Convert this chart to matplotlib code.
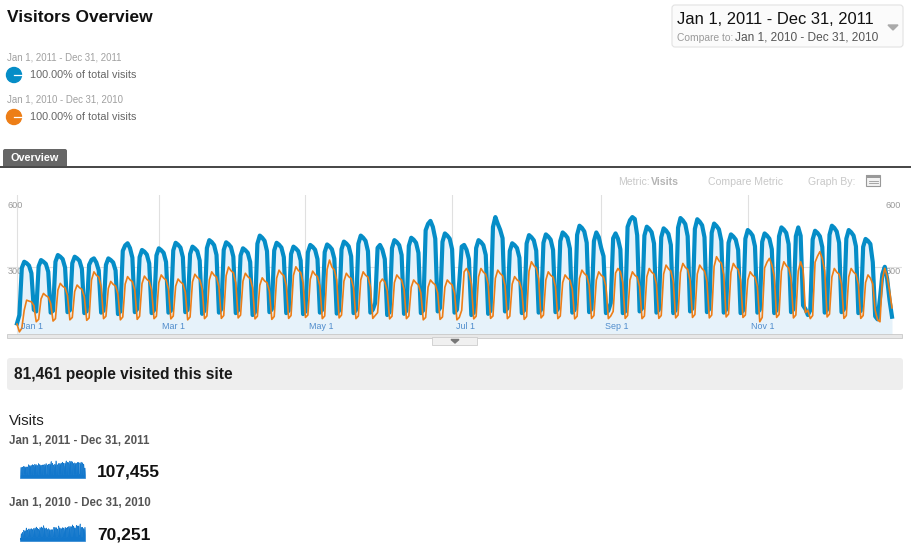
import matplotlib.pyplot as plt
from matplotlib.patches import Rectangle, FancyBboxPatch, Circle, Polygon

plt.rcParams['font.family'] = ['Liberation Sans', 'DejaVu Sans']

W, H = 912, 551

# 月份刻度（一年中的第几天, 0 = Jan 1）
month_days = [0, 59, 120, 181, 243, 304]
month_labels = ['Jan 1', 'Mar 1', 'May 1', 'Jul 1', 'Sep 1', 'Nov 1']
y_ticks = [300, 600]

# 2011 daily visits (Sat Jan 1, Sun Jan 2, then Mon..Sun weeks)
visits_2011_weeks = [
    [65, 100],
    [296, 322, 316, 306, 274, 122, 115],
    [303, 329, 322, 313, 280, 110, 118],
    [322, 350, 343, 333, 298, 112, 120],
    [316, 343, 336, 326, 292, 108, 116],
    [309, 330, 336, 319, 286, 110, 118],
    [309, 336, 329, 319, 286, 104, 115],
    [367, 390, 399, 379, 339, 112, 125],
    [341, 371, 364, 352, 315, 108, 120],
    [348, 378, 370, 359, 321, 110, 118],
    [369, 401, 393, 381, 341, 112, 122],
    [354, 385, 377, 366, 327, 105, 118],
    [379, 412, 404, 391, 350, 110, 125],
    [371, 403, 395, 383, 343, 108, 120],
    [348, 378, 370, 359, 321, 100, 112],
    [397, 431, 422, 409, 366, 112, 124],
    [369, 401, 393, 381, 341, 108, 118],
    [354, 385, 377, 366, 327, 104, 115],
    [361, 392, 384, 372, 333, 110, 122],
    [362, 394, 386, 374, 335, 106, 118],
    [374, 406, 398, 386, 345, 108, 120],
    [397, 431, 422, 409, 366, 110, 122],
    [150, 380, 392, 372, 333, 100, 112],
    [379, 412, 404, 391, 350, 105, 118],
    [388, 422, 414, 401, 359, 108, 120],
    [453, 480, 492, 467, 418, 115, 130],
    [405, 440, 431, 418, 374, 110, 122],
    [240, 385, 392, 372, 333, 100, 110],
    [379, 412, 404, 391, 350, 105, 118],
    [467, 508, 480, 455, 420, 115, 128],
    [367, 399, 391, 379, 339, 108, 120],
    [398, 433, 424, 411, 368, 110, 122],
    [401, 436, 427, 414, 371, 112, 125],
    [408, 444, 435, 422, 377, 110, 122],
    [434, 472, 463, 448, 401, 112, 125],
    [408, 444, 425, 380, 345, 108, 118],
    [150, 420, 440, 418, 374, 108, 115],
    [467, 495, 508, 500, 432, 115, 128],
    [431, 468, 459, 445, 398, 110, 122],
    [424, 461, 452, 438, 392, 108, 120],
    [464, 504, 494, 479, 428, 115, 128],
    [459, 499, 489, 474, 424, 112, 125],
    [443, 481, 471, 457, 409, 110, 122],
    [401, 436, 427, 414, 371, 108, 118],
    [418, 454, 445, 431, 386, 110, 122],
    [405, 440, 431, 418, 374, 108, 120],
    [428, 465, 456, 442, 395, 112, 124],
    [428, 465, 430, 140, 125, 100, 120],
    [415, 451, 442, 428, 383, 110, 122],
    [434, 472, 463, 448, 401, 112, 124],
    [418, 454, 445, 431, 386, 108, 118],
    [384, 417, 409, 396, 320, 95, 82],
    [170, 270, 301, 250, 160, 93],
]

# 2010 daily visits (Fri Jan 1, Sat, Sun, then Mon..Sun weeks)
visits_2010_weeks = [
    [62, 30, 45],
    [120, 162, 158, 155, 140, 72, 82],
    [167, 190, 181, 175, 148, 75, 85],
    [204, 232, 220, 213, 181, 80, 90],
    [198, 225, 214, 207, 176, 78, 88],
    [246, 280, 266, 258, 218, 85, 95],
    [211, 240, 228, 221, 187, 80, 92],
    [229, 260, 247, 239, 203, 82, 95],
    [231, 262, 249, 241, 204, 85, 95],
    [235, 267, 254, 246, 208, 84, 96],
    [220, 250, 238, 230, 195, 80, 92],
    [238, 270, 257, 248, 211, 85, 96],
    [246, 280, 266, 258, 218, 86, 98],
    [264, 300, 285, 276, 234, 88, 100],
    [241, 274, 260, 252, 214, 84, 95],
    [224, 255, 242, 235, 199, 82, 94],
    [253, 287, 273, 264, 224, 86, 98],
    [265, 301, 286, 277, 235, 90, 100],
    [249, 283, 269, 260, 221, 85, 96],
    [290, 329, 300, 288, 245, 88, 100],
    [241, 274, 260, 252, 214, 85, 96],
    [246, 280, 266, 258, 218, 86, 98],
    [110, 235, 250, 238, 200, 84, 95],
    [235, 267, 254, 246, 208, 85, 96],
    [216, 246, 234, 226, 192, 80, 90],
    [216, 246, 234, 226, 192, 82, 92],
    [216, 246, 234, 226, 192, 80, 90],
    [120, 280, 294, 275, 230, 84, 95],
    [259, 294, 279, 270, 229, 86, 96],
    [253, 287, 273, 264, 224, 85, 95],
    [229, 260, 247, 239, 203, 82, 94],
    [283, 322, 306, 296, 251, 88, 100],
    [246, 280, 266, 258, 218, 85, 96],
    [235, 267, 254, 246, 208, 84, 95],
    [253, 287, 273, 264, 224, 86, 98],
    [246, 280, 266, 258, 218, 85, 96],
    [115, 275, 294, 280, 235, 86, 98],
    [246, 280, 266, 258, 218, 85, 96],
    [259, 294, 279, 270, 229, 86, 98],
    [271, 308, 293, 283, 240, 88, 100],
    [277, 315, 299, 290, 246, 90, 102],
    [271, 308, 293, 283, 240, 88, 100],
    [302, 343, 326, 316, 268, 92, 104],
    [277, 315, 299, 290, 246, 90, 100],
    [246, 280, 266, 258, 218, 72, 90],
    [296, 320, 336, 309, 262, 90, 102],
    [283, 322, 306, 296, 251, 88, 100],
    [283, 322, 290, 110, 120, 85, 98],
    [320, 345, 364, 335, 284, 92, 104],
    [259, 294, 279, 270, 229, 86, 98],
    [259, 294, 279, 270, 229, 86, 98],
    [235, 267, 254, 230, 120, 80, 72],
    [250, 295, 260, 200, 130],
]

visits_2011 = sum(visits_2011_weeks, [])
visits_2010 = sum(visits_2010_weeks, [])
days = list(range(len(visits_2011)))

BLUE = '#058dc7'
ORANGE = '#ed7e17'

fig = plt.figure(figsize=(W / 100, H / 100), dpi=100)
T = fig.dpi_scale_trans


def P(x, y):
    # 像素坐标 -> 英寸坐标
    return (x / 100, (H - y) / 100)


def txt(x, y, s, size, color='#222222', weight='normal', ha='left', va='center', target=None, z=3):
    (target or fig).text(*P(x, y), s, transform=T, fontsize=size, color=color,
                         fontweight=weight, ha=ha, va=va, zorder=z, clip_on=False)


def box(x0, y0, x1, y1, fc, ec='none', r=0.0, lw=0.8):
    if r > 0:
        p = FancyBboxPatch(P(x0, y1), (x1 - x0) / 100, (y1 - y0) / 100,
                           boxstyle=f'round,pad=0,rounding_size={r / 100}',
                           transform=T, facecolor=fc, edgecolor=ec, linewidth=lw)
    else:
        p = Rectangle(P(x0, y1), (x1 - x0) / 100, (y1 - y0) / 100,
                      transform=T, facecolor=fc, edgecolor=ec, linewidth=lw)
    fig.add_artist(p)


def axes_at(x0, y0, x1, y1):
    a = fig.add_axes([x0 / W, 1 - y1 / H, (x1 - x0) / W, (y1 - y0) / H])
    a.axis('off')
    return a


# ---- header ----
txt(7, 18, 'Visitors Overview', 12.5, '#111111', 'bold')
txt(7, 58, 'Jan 1, 2011 - Dec 31, 2011', 6.9, '#a0a0a0')
txt(30, 75, '100.00% of total visits', 7.8, '#666666')
txt(7, 100, 'Jan 1, 2010 - Dec 31, 2010', 6.9, '#a0a0a0')
txt(30, 117, '100.00% of total visits', 7.8, '#666666')
for cy, col in [(75, BLUE), (117, ORANGE)]:
    fig.add_artist(Circle(P(14, cy), 0.075, transform=T, color=col))
    fig.add_artist(plt.Line2D([0.14, 0.215], [(H - cy) / 100] * 2, transform=T,
                              color='white', lw=0.9))

# date range box
box(672, 5, 903, 47, '#fbfbfb', '#e2e2e2', r=3)
txt(677, 20, 'Jan 1, 2011 - Dec 31, 2011', 11.9, '#111111')
txt(677, 38, 'Compare to:', 7.4, '#9a9a9a')
txt(735, 38, 'Jan 1, 2010 - Dec 31, 2010', 8.6, '#555555')
fig.add_artist(Polygon([P(888, 25), P(898, 25), P(893, 30)], closed=True,
                       transform=T, color='#aaaaaa'))

# Overview tab
box(3, 149, 67, 168, '#666666', r=2)
txt(35, 158, 'Overview', 7.8, 'white', 'bold', ha='center')
box(0, 166, 912, 168, '#4a4a4a')

txt(618, 182, 'Metric:', 7.6, '#c8c8c8')
txt(651, 182, 'Visits', 7.6, '#b4b4b4', 'bold')
txt(708, 182, 'Compare Metric', 7.6, '#c8c8c8')
txt(808, 182, 'Graph By:', 7.6, '#c8c8c8')
box(866, 175, 880, 186, '#f2f2f2', '#999999', lw=0.8)
box(866, 175, 880, 178, '#999999')
for yy in [180.5, 183]:
    fig.add_artist(plt.Line2D([8.69, 8.78], [(H - yy) / 100] * 2, transform=T,
                              color='#999999', lw=0.6))

# ---- main chart ----
px_day = (892 - 17) / 364
ax = axes_at(7, 195, 902, 334)
ax.set_xlim(-10 / px_day, 364 + 10 / px_day)
ax.set_ylim(21, 600)
for d in month_days:
    ax.axvline(d, color='#e0e0e0', lw=0.8, zorder=0)
ax.axhline(y_ticks[0], color='#e0e0e0', lw=0.8, zorder=0)
ax.fill_between(days, 21, visits_2011, color='#e6f2fa', lw=0, zorder=1)
ax.plot(days, visits_2011, color=BLUE, lw=3.0, solid_joinstyle='round', zorder=3)
ax.plot(days, visits_2010, color=ORANGE, lw=1.2, solid_joinstyle='round', zorder=4)
for d, lab in zip(month_days, month_labels):
    ax.text(d + 1.5, 51, lab, fontsize=6.4, color='#4f8ccc', ha='left', va='center', zorder=5)
for v, yy in zip(y_ticks, [272, 206]):
    txt(8, yy, str(v), 6.6, '#9a9a9a', target=ax, z=2)
    txt(901, yy, str(v), 6.6, '#9a9a9a', ha='right', target=ax, z=2)

# slider bar under chart
box(7, 334, 902, 337.5, '#e8e8e8', '#c8c8c8', lw=0.6)
box(432, 337, 477, 345, '#f0f0f0', '#cccccc', lw=0.6)
fig.add_artist(Polygon([P(451, 339.5), P(459, 339.5), P(455, 343)], closed=True,
                       transform=T, color='#777777'))

# ---- summary ----
box(7, 358, 903, 390, '#eeeeee', r=3)
txt(14, 375, '81,461 people visited this site', 11.2, '#1a1a1a', 'bold')
txt(9, 421, 'Visits', 10.8, '#222222')
txt(9, 441, 'Jan 1, 2011 - Dec 31, 2011', 8.3, '#555555', 'bold')
txt(97, 472, '107,455', 12.5, '#111111', 'bold')
txt(9, 503, 'Jan 1, 2010 - Dec 31, 2010', 8.3, '#555555', 'bold')
txt(97, 535, '70,251', 12.5, '#111111', 'bold')

for (y0, y1), series in [((460, 478), visits_2011), ((523, 541), visits_2010)]:
    sp = axes_at(20, y0, 85, y1)
    sp.fill_between(days, 0, series, color='#1277cc', lw=0.4, edgecolor='#1277cc')
    sp.set_xlim(0, 364)
    sp.set_ylim(0, max(series) * 1.02)

fig.savefig('out.png', dpi=100)
